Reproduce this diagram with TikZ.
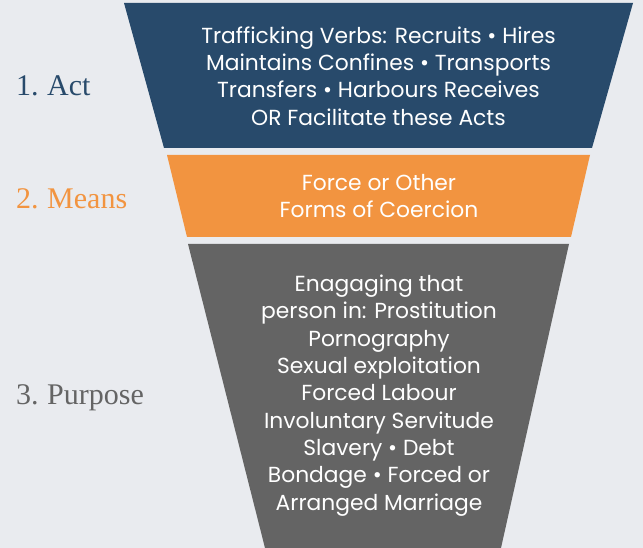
\documentclass[tikz,border=0pt]{standalone}
\usepackage{fontspec}
\setmainfont{Poppins}
\newfontfamily\labelserif[WordSpace=0.8]{Liberation Serif}
\definecolor{bgcol}{HTML}{E9EBEF}
\definecolor{actblue}{HTML}{284A6B}
\definecolor{meansorange}{HTML}{F29440}
\definecolor{purposegray}{HTML}{646464}
\tikzset{
  funneltext/.style={align=center, text=white, inner sep=0pt, font=\fontsize{21.8}{27.3}\selectfont},
  sidelabel/.style={anchor=base west, inner sep=0pt, font=\labelserif\fontsize{30}{32}\selectfont}
}
\begin{document}
\begin{tikzpicture}[x=1pt,y=-1pt]
\fill[bgcol] (0,0) rectangle (643,548);
\useasboundingbox (0,0) rectangle (643,548);
\fill[actblue] (124,3) -- (633,3) -- (592,148) -- (164,148) -- cycle;
\fill[meansorange] (167,155) -- (590,155) -- (571,237) -- (187,237) -- cycle;
\fill[purposegray] (188,244) -- (569,244) -- (501,548) -- (265,548) -- cycle;
\node[funneltext] (acttext) at (378.5,76) {Trafficking Verbs: Recruits \textbullet{} Hires\\Maintains Confines \textbullet{} Transports\\Transfers \textbullet{} Harbours Receives\\OR Facilitate these Acts};
\node[funneltext] (meanstext) at (379,196) {Force or Other\\Forms of Coercion};
\node[funneltext] (purposetext) at (379,395.5) {Enagaging that\\person in: Prostitution\\Pornography\\Sexual exploitation\\Forced Labour\\Involuntary Servitude\\Slavery \textbullet{} Debt\\Bondage \textbullet{} Forced or\\Arranged Marriage};
\node[sidelabel, text=actblue] (actlabel) at (16,96) {1. Act};
\node[sidelabel, text=meansorange] (meanslabel) at (16,209) {2. Means};
\node[sidelabel, text=purposegray] (purposelabel) at (16,404) {3. Purpose};
\end{tikzpicture}
\end{document}
